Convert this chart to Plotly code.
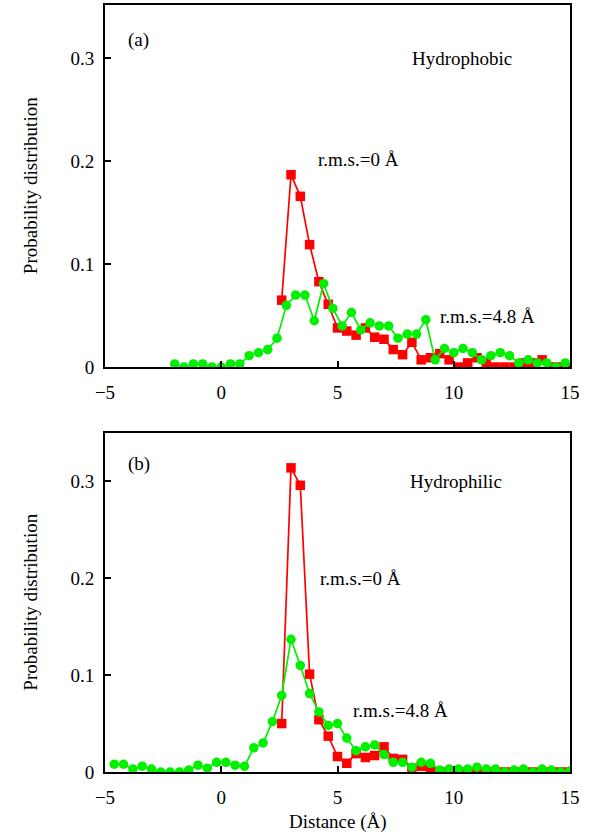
import plotly.graph_objects as go
from plotly.subplots import make_subplots

# ---------------- data ----------------
# (a) Hydrophobic
a_red_x = [round(2.6 + 0.4 * i, 1) for i in range(32)]
a_red_y = [0.065, 0.187, 0.166, 0.119, 0.083, 0.061, 0.038, 0.035, 0.031, 0.038,
           0.029, 0.027, 0.017, 0.012, 0.024, 0.007, 0.009, 0.013, 0.007, 0.000,
           0.004, 0.009, 0.004, 0.000, 0.000, 0.000, 0.004, 0.004, 0.007, 0.000,
           0.000, 0.000]
a_green_x = [round(-2.0 + 0.4 * i, 1) for i in range(43)]
a_green_y = [0.003, 0.000, 0.003, 0.003, 0.000, 0.000, 0.003, 0.003, 0.011, 0.014,
             0.017, 0.028, 0.060, 0.070, 0.070, 0.045, 0.081, 0.057, 0.040, 0.053,
             0.036, 0.043, 0.040, 0.040, 0.028, 0.032, 0.032, 0.046, 0.007, 0.018,
             0.014, 0.018, 0.014, 0.007, 0.011, 0.014, 0.011, 0.004, 0.007, 0.004,
             0.004, 0.000, 0.004]

# (b) Hydrophilic
b_red_x = [round(2.6 + 0.4 * i, 1) for i in range(32)]
b_red_y = [0.050, 0.314, 0.296, 0.101, 0.054, 0.037, 0.016, 0.009, 0.019, 0.015,
           0.017, 0.026, 0.014, 0.013, 0.004, 0.006, 0.002, 0.000, 0.000, 0.000,
           0.000, 0.000, 0.000, 0.000, 0.000, 0.000, 0.000, 0.000, 0.000, 0.000,
           0.000, 0.000]
b_green_x = [round(-4.6 + 0.4 * i, 1) for i in range(50)]
b_green_y = [0.008, 0.008, 0.003, 0.006, 0.003, 0.000, 0.000, 0.000, 0.002, 0.007,
             0.004, 0.010, 0.010, 0.007, 0.006, 0.025, 0.030, 0.052, 0.079, 0.137,
             0.110, 0.081, 0.062, 0.048, 0.050, 0.035, 0.022, 0.026, 0.028, 0.018,
             0.010, 0.010, 0.005, 0.010, 0.009, 0.002, 0.003, 0.003, 0.003, 0.005,
             0.003, 0.003, 0.000, 0.002, 0.003, 0.000, 0.003, 0.002, 0.000, 0.001]

x_ticks = [-5, 0, 5, 10, 15]
x_tick_text = ["\u22125", "0", "5", "10", "15"]
y_ticks = [0, 0.1, 0.2, 0.3]
y_tick_text = ["0", "0.1", "0.2", "0.3"]

RED = "#ff0000"
GREEN = "#00f000"
FONT = "Liberation Serif"

fig = make_subplots(rows=2, cols=1, vertical_spacing=0.086, shared_xaxes=False)

def add_panel(row, rx, ry, gx, gy):
    fig.add_trace(go.Scatter(x=rx, y=ry, mode="lines+markers",
                             line=dict(color=RED, width=1.7),
                             marker=dict(symbol="square", size=9.5, color=RED),
                             showlegend=False), row=row, col=1)
    fig.add_trace(go.Scatter(x=gx, y=gy, mode="lines+markers",
                             line=dict(color=GREEN, width=1.7),
                             marker=dict(symbol="circle", size=9.5, color=GREEN),
                             showlegend=False), row=row, col=1)

add_panel(1, a_red_x, a_red_y, a_green_x, a_green_y)
add_panel(2, b_red_x, b_red_y, b_green_x, b_green_y)

axis_common = dict(showline=True, linecolor="black", linewidth=2, mirror=True,
                   ticks="inside", ticklen=6, tickwidth=1.5, tickcolor="black",
                   showgrid=False, zeroline=False,
                   tickfont=dict(family=FONT, size=19, color="black"))

fig.update_xaxes(range=[-5, 15], tickvals=x_ticks, ticktext=x_tick_text,
                 ticklabelstandoff=7, **axis_common)
fig.update_yaxes(tickvals=y_ticks, ticktext=y_tick_text, ticklabelstandoff=5, **axis_common)
fig.update_yaxes(range=[0, 0.352], row=1, col=1)
fig.update_yaxes(range=[0, 0.350], row=2, col=1)
fig.update_layout(
    xaxis=dict(domain=[0, 1]), xaxis2=dict(domain=[0, 1]),
    yaxis=dict(domain=[0.528, 1.0]), yaxis2=dict(domain=[0.0, 0.442]),
)

ann_font = dict(family=FONT, size=19, color="black")
annotations = [
    dict(text="(a)", x=-4.1, y=0.318, xref="x", yref="y", xanchor="left"),
    dict(text="Hydrophobic", x=10.35, y=0.300, xref="x", yref="y"),
    dict(text="r.m.s.=0 Å", x=5.9, y=0.202, xref="x", yref="y"),
    dict(text="r.m.s.=4.8 Å", x=11.45, y=0.0495, xref="x", yref="y"),
    dict(text="(b)", x=-4.1, y=0.318, xref="x2", yref="y2", xanchor="left"),
    dict(text="Hydrophilic", x=10.1, y=0.300, xref="x2", yref="y2"),
    dict(text="r.m.s.=0 Å", x=5.97, y=0.200, xref="x2", yref="y2"),
    dict(text="r.m.s.=4.8 Å", x=7.7, y=0.0637, xref="x2", yref="y2"),
]
for a in annotations:
    a.update(showarrow=False, font=ann_font, yanchor="middle")
    if "xanchor" not in a:
        a["xanchor"] = "center"

# axis titles as paper annotations
annotations += [
    dict(text="Probability distribution", x=-0.161, y=(0.528 + 1.0) / 2, xref="paper", yref="paper",
         textangle=-90, showarrow=False, font=ann_font, xanchor="center", yanchor="middle"),
    dict(text="Probability distribution", x=-0.161, y=0.442 / 2, xref="paper", yref="paper",
         textangle=-90, showarrow=False, font=ann_font, xanchor="center", yanchor="middle"),
    dict(text="Distance (Å)", x=0.5, y=-0.065, xref="paper", yref="paper",
         showarrow=False, font=ann_font, xanchor="center", yanchor="middle"),
]

fig.update_layout(
    width=600, height=834,
    margin=dict(l=105, r=30, t=3, b=62),
    paper_bgcolor="white", plot_bgcolor="white",
    annotations=annotations,
    showlegend=False,
)

fig.write_html("out.html")
